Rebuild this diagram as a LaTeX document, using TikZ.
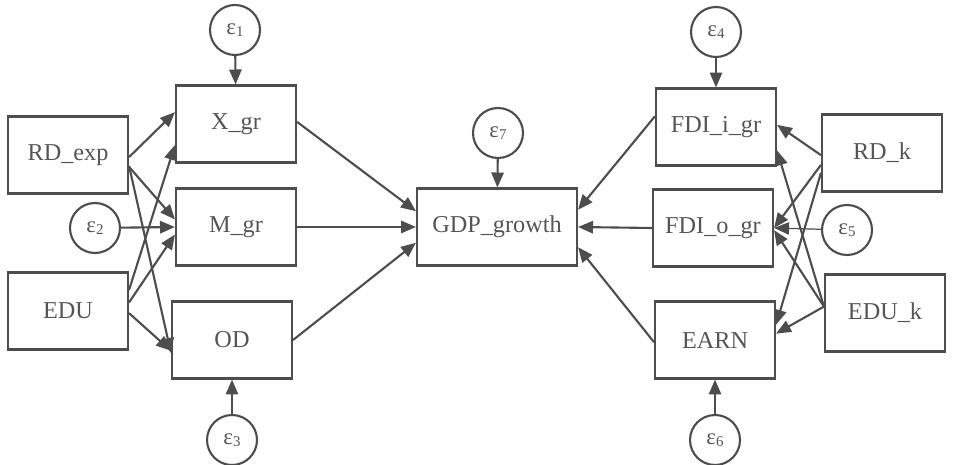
\documentclass[tikz,border=0pt]{standalone}
\usepackage{fontspec}
\setmainfont{Liberation Serif}
\usepackage{xcolor}
\usetikzlibrary{arrows.meta}
\definecolor{pathgray}{HTML}{4d4d4d}
\definecolor{textgray}{HTML}{555555}
\newcommand{\errterm}[1]{{\fontsize{13}{15}\selectfont ε\raisebox{-1.2pt}{\fontsize{8.5}{9}\selectfont #1}}}

\begin{document}
\begin{tikzpicture}[x=0.02cm,y=-0.02cm,
  box/.style={draw=pathgray, line width=1.2pt, minimum width=2.4cm, minimum height=1.54cm,
    text=textgray, font=\fontsize{13.8}{16}\selectfont, inner sep=0pt},
  err/.style={draw=pathgray, line width=1.2pt, circle, minimum size=1cm, inner sep=0pt, text=textgray},
  path/.style={draw=pathgray, line width=1.2pt, -{Triangle[length=8.5pt,width=7pt]}}]
\useasboundingbox (0,0) rectangle (955,465);
% observed variables
\node[box] (rdexp) at (68,155) {RD\_exp};
\node[box] (edu) at (68,311) {EDU};
\node[box] (xgr) at (236,124) {X\_gr};
\node[box] (mgr) at (236,227) {M\_gr};
\node[box] (od) at (232,340) {OD};
\node[box, minimum width=3.2cm] (gdp) at (497,227) {GDP\_growth};
\node[box] (fdii) at (716,127) {FDI\_i\_gr};
\node[box] (fdio) at (713,228) {FDI\_o\_gr};
\node[box] (earn) at (715,340) {EARN};
\node[box] (rdk) at (882,153) {RD\_k};
\node[box] (eduk) at (885,313) {EDU\_k};
%
% error terms
\node[err] (e1) at (235,30) {\errterm{1}};
\node[err] (e2) at (95,228) {\errterm{2}};
\node[err] (e3) at (232,440) {\errterm{3}};
\node[err] (e4) at (716,32) {\errterm{4}};
\node[err] (e5) at (847,230) {\errterm{5}};
\node[err] (e6) at (715,440) {\errterm{6}};
\node[err] (e7) at (498,133) {\errterm{7}};
%
% left block
\draw[path] (rdexp.-2) -- (xgr.169);
\draw[path] (rdexp.-11) -- (mgr.173);
\draw[path] (rdexp.-10) -- (od.192);
\draw[path] (edu.19) -- (xgr.199);
\draw[path] (edu.8) -- (mgr.187);
\draw[path] (edu.-2) -- (od.190);
\draw[path] (e2) -- (mgr.west);
%
% into GDP_growth
\draw[path] (xgr.2) -- (gdp.169);
\draw[path] (mgr.east) -- (gdp.west);
\draw[path] (od.east) -- (gdp.191);
\draw[path] (fdii.170) -- (gdp.12);
\draw[path] (fdio.west) -- (gdp.east);
\draw[path] (earn.182) -- (gdp.-14);
%
% right block
\draw[path] (rdk.182) -- (fdii.2);
\draw[path] (rdk.191) -- (fdio.east);
\draw[path] (rdk.198) -- (earn.14);
\draw[path] (eduk.174) -- (fdii.-21);
\draw[path] (eduk.174) -- (fdio.-2);
\draw[path] (eduk.174) -- (earn.6);
\draw[path, line width=0.7pt] (e5) -- (fdio.east);
%
% errors on endogenous variables
\draw[path] (e1) -- (xgr);
\draw[path] (e3) -- (od);
\draw[path] (e4) -- (fdii);
\draw[path] (e6) -- (earn);
\draw[path] (e7) -- (gdp);
\end{tikzpicture}
\end{document}
